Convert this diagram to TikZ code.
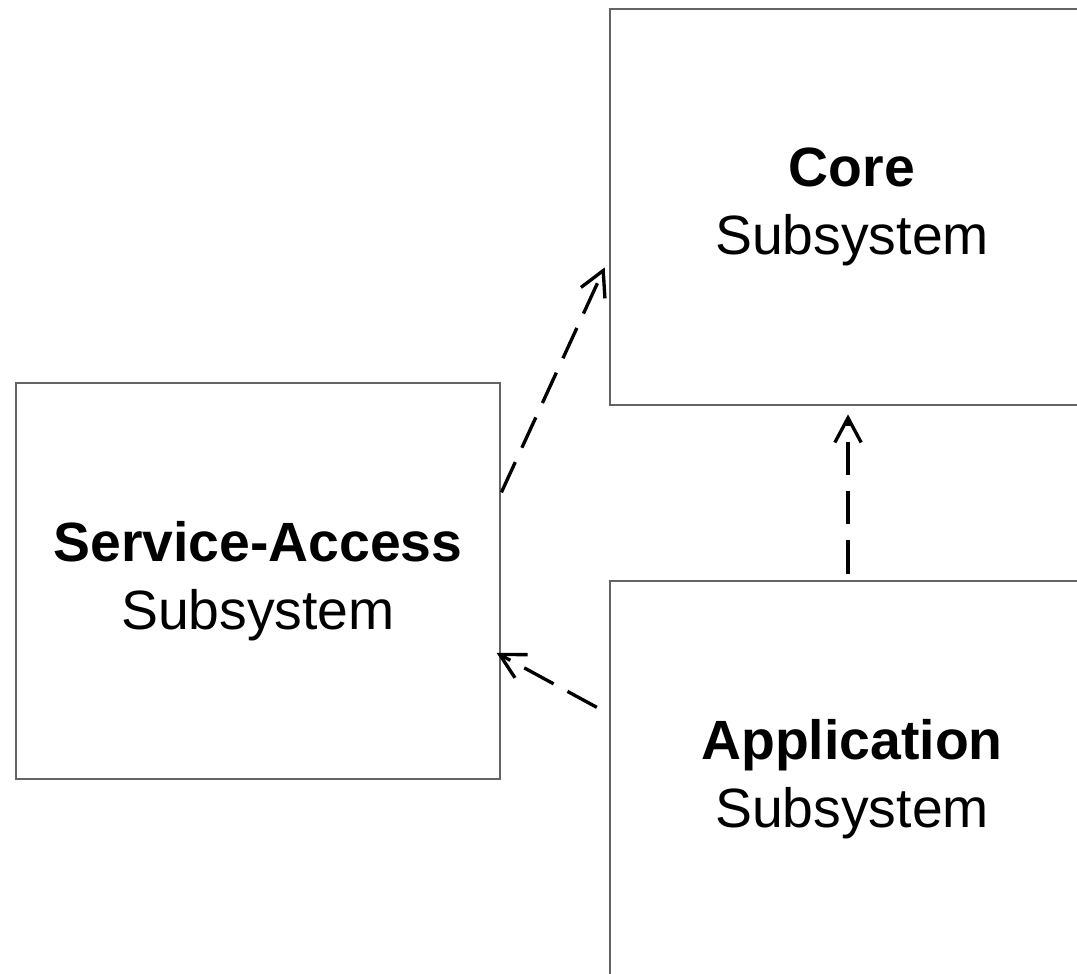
\documentclass[tikz,border=0pt]{standalone}
\usepackage{fontspec}
\setmainfont{Liberation Sans}
\usepackage{tikz}
\usetikzlibrary{arrows.meta}
\definecolor{corborda}{RGB}{100,100,100}

\begin{document}
\begin{tikzpicture}[x=0.02cm, y=-0.02cm,
  subsistema/.style={draw=corborda, line width=1.6pt, minimum width=9.68cm, minimum height=7.92cm,
    align=center, font=\fontsize{31.5}{39}\selectfont},
  dependencia/.style={draw=black, line width=1.9pt, dash pattern=on 19pt off 9pt,
    -{Straight Barb[length=14pt,width=15pt]}}]
  \useasboundingbox (0,0) rectangle (1077,973);
  \clip (0,0) rectangle (1077,973);
  \node [subsistema] (core) at (852,207) {\textbf{Core}\\Subsystem};
  \node [subsistema] (acesso) at (258,581) {\textbf{Service-Access}\\Subsystem};
  \node [subsistema] (aplicacao) at (852,779) {\textbf{Application}\\Subsystem};
  \draw [dependencia, shorten >=0.19cm] (acesso.20) -- (core.192);
  \draw [dependencia, shorten <=0.27cm, shorten >=-0.11cm] (aplicacao.165) -- (acesso.-17);
  \draw [dependencia, shorten <=0.12cm, shorten >=0.16cm] ([xshift=-0.08cm]aplicacao.north) -- ([xshift=-0.08cm]core.south);
\end{tikzpicture}
\end{document}
